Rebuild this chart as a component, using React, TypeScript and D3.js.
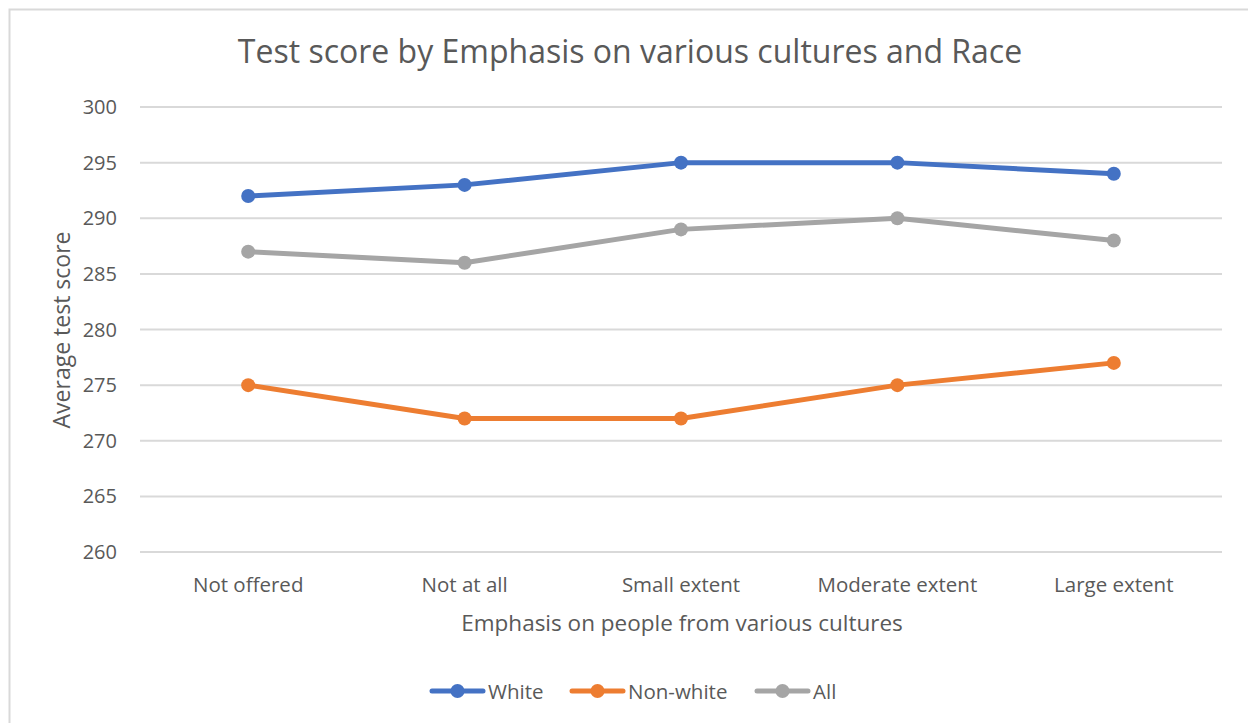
import React from "react";
import * as d3 from "d3";

const categories = ["Not offered", "Not at all", "Small extent", "Moderate extent", "Large extent"];
const whiteScores = [292, 293, 295, 295, 294];
const nonWhiteScores = [275, 272, 272, 275, 277];
const allScores = [287, 286, 289, 290, 288];
const yTicks = [260, 265, 270, 275, 280, 285, 290, 295, 300];

const series = [
  { name: "White", values: whiteScores, color: "#4472C4" },
  { name: "Non-white", values: nonWhiteScores, color: "#ED7D31" },
  { name: "All", values: allScores, color: "#A5A5A5" },
];

const W = 1248;
const H = 723;
const FONT = "'Open Sans', sans-serif";
const TEXT = "#595959";

export default function App() {
  const x = d3.scaleBand<string>().domain(categories).range([140, 1222]);
  const y = d3.scaleLinear().domain([260, 300]).range([552, 107]);
  const cx = (c: string) => (x(c) ?? 0) + x.bandwidth() / 2;
  const line = d3
    .line<number>()
    .x((_, i) => cx(categories[i]))
    .y((v) => y(v));

  const legendX = [430, 570, 755];

  return (
    <svg
      width={W}
      height={H}
      style={{ position: "fixed", left: 0, top: 0, background: "#fff" }}
      fontFamily={FONT}
    >
      <rect x={0} y={0} width={W} height={H} fill="#fff" />
      <rect x={9.5} y={9.5} width={W + 20} height={H + 20} fill="none" stroke="#d9d9d9" strokeWidth={2} />

      <text x={630} y={63} textAnchor="middle" fontSize={32} fill={TEXT}>
        Test score by Emphasis on various cultures and Race
      </text>

      {yTicks.map((t) => (
        <g key={t}>
          <line x1={140} x2={1222} y1={y(t)} y2={y(t)} stroke="#d9d9d9" strokeWidth={2} />
          <text x={117} y={y(t) + 7} textAnchor="end" fontSize={20} fill={TEXT}>
            {t}
          </text>
        </g>
      ))}

      {categories.map((c) => (
        <text key={c} x={cx(c)} y={592} textAnchor="middle" fontSize={20.5} fill={TEXT}>
          {c}
        </text>
      ))}

      <text x={682} y={631} textAnchor="middle" fontSize={22.5} fill={TEXT}>
        Emphasis on people from various cultures
      </text>
      <text
        transform={`translate(70,330) rotate(-90)`}
        textAnchor="middle"
        fontSize={23}
        fill={TEXT}
      >
        Average test score
      </text>

      {series.map((s) => (
        <g key={s.name}>
          <path d={line(s.values) ?? ""} fill="none" stroke={s.color} strokeWidth={5} strokeLinejoin="round" />
          {s.values.map((v, i) => (
            <circle key={i} cx={cx(categories[i])} cy={y(v)} r={7} fill={s.color} />
          ))}
        </g>
      ))}

      {series.map((s, i) => (
        <g key={s.name} transform={`translate(${legendX[i]},691)`}>
          <line x1={2} x2={53} y1={0} y2={0} stroke={s.color} strokeWidth={5} strokeLinecap="round" />
          <circle cx={27.5} cy={0} r={7} fill={s.color} />
          <text x={58} y={7.5} fontSize={20.5} fill={TEXT}>
            {s.name}
          </text>
        </g>
      ))}
    </svg>
  );
}
